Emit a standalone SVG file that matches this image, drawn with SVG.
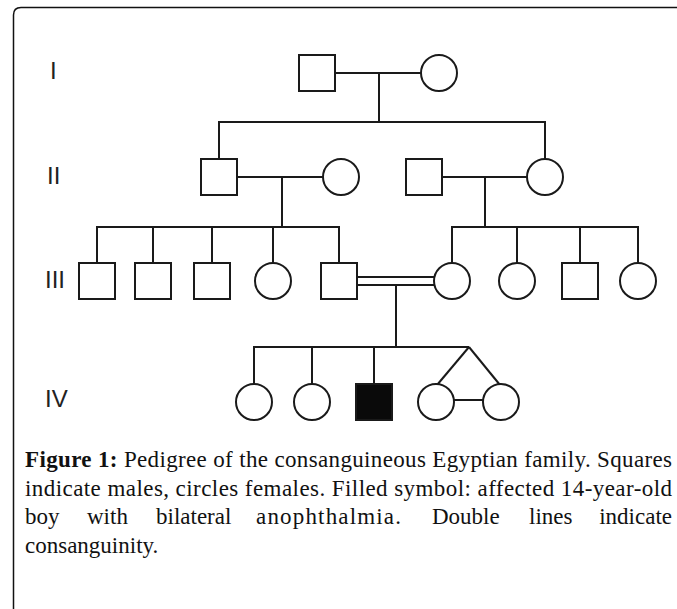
<svg xmlns="http://www.w3.org/2000/svg" width="677" height="609" viewBox="0 0 677 609">
<style>
.s{fill:#fff;stroke:#1a1a1a;stroke-width:2}
.f{fill:#0a0a0a;stroke:#1a1a1a;stroke-width:2}
.c line{stroke:#1a1a1a;stroke-width:2;fill:none}
.lab{font-family:"Liberation Sans",Arial,sans-serif;font-size:24px;fill:#222}
.cap{font-family:"Liberation Serif","Times New Roman",serif;font-size:23px;fill:#111}
.b{font-weight:bold}
</style>
<rect width="677" height="609" fill="#fff"/>
<path d="M13.5,615 V15 Q13.5,7.5 21,7.5 H690" fill="none" stroke="#111" stroke-width="1.5"/>
<g id="labels">
<text class="lab" x="50" y="79">I</text>
<text class="lab" x="47" y="184">II</text>
<text class="lab" x="45" y="288">III</text>
<text class="lab" x="45" y="407">IV</text>
</g>
<g class="c" id="connectors">
<line x1="335" y1="73" x2="421" y2="73"/>
<line x1="379" y1="73" x2="379" y2="122"/>
<line x1="219" y1="122" x2="545" y2="122"/>
<line x1="219" y1="121" x2="219" y2="159"/>
<line x1="545" y1="121" x2="545" y2="159"/>
<line x1="237" y1="177" x2="323" y2="177"/>
<line x1="282" y1="177" x2="282" y2="227"/>
<line x1="442" y1="177" x2="527" y2="177"/>
<line x1="485" y1="177" x2="485" y2="227"/>
<line x1="96" y1="227" x2="340" y2="227"/>
<line x1="97" y1="226" x2="97" y2="263"/>
<line x1="153" y1="226" x2="153" y2="263"/>
<line x1="212" y1="226" x2="212" y2="263"/>
<line x1="273" y1="226" x2="273" y2="263"/>
<line x1="339" y1="226" x2="339" y2="263"/>
<line x1="451" y1="227" x2="639" y2="227"/>
<line x1="452" y1="226" x2="452" y2="263"/>
<line x1="517" y1="226" x2="517" y2="263"/>
<line x1="580" y1="226" x2="580" y2="263"/>
<line x1="638" y1="226" x2="638" y2="263"/>
<line x1="357" y1="277" x2="435" y2="277"/>
<line x1="357" y1="285" x2="435" y2="285"/>
<line x1="396" y1="285" x2="396" y2="347"/>
<line x1="253" y1="347" x2="469" y2="347"/>
<line x1="254" y1="346" x2="254" y2="384"/>
<line x1="312" y1="346" x2="312" y2="384"/>
<line x1="374" y1="346" x2="374" y2="384"/>
<line x1="469" y1="347" x2="437" y2="385"/>
<line x1="469" y1="347" x2="500" y2="385"/>
<line x1="454" y1="400" x2="483" y2="400"/>
</g>
<g id="I-1"><rect class="s" x="299" y="55" width="36" height="36"/></g>
<g id="I-2"><circle class="s" cx="439" cy="73" r="18"/></g>
<g id="II-1"><rect class="s" x="201" y="159" width="36" height="36"/></g>
<g id="II-2"><circle class="s" cx="341" cy="177" r="18"/></g>
<g id="II-3"><rect class="s" x="406" y="159" width="36" height="36"/></g>
<g id="II-4"><circle class="s" cx="545" cy="177" r="18"/></g>
<g id="III-1"><rect class="s" x="79" y="263" width="36" height="36"/></g>
<g id="III-2"><rect class="s" x="135" y="263" width="36" height="36"/></g>
<g id="III-3"><rect class="s" x="194" y="263" width="36" height="36"/></g>
<g id="III-4"><circle class="s" cx="273" cy="281" r="18"/></g>
<g id="III-5"><rect class="s" x="321" y="263" width="36" height="36"/></g>
<g id="III-6"><circle class="s" cx="452" cy="281" r="18"/></g>
<g id="III-7"><circle class="s" cx="517" cy="281" r="18"/></g>
<g id="III-8"><rect class="s" x="562" y="263" width="36" height="36"/></g>
<g id="III-9"><circle class="s" cx="638" cy="281" r="18"/></g>
<g id="IV-1"><circle class="s" cx="254" cy="402" r="18"/></g>
<g id="IV-2"><circle class="s" cx="312" cy="402" r="18"/></g>
<g id="IV-3"><rect class="f" x="356" y="384" width="36" height="36"/></g>
<g id="IV-4"><circle class="s" cx="436" cy="402" r="18"/></g>
<g id="IV-5"><circle class="s" cx="501" cy="402" r="18"/></g>
<g id="caption">
<text class="cap" x="25" y="467" textLength="647" lengthAdjust="spacing"><tspan class="b">Figure 1:</tspan> Pedigree of the consanguineous Egyptian family. Squares</text>
<text class="cap" x="25" y="496" textLength="647" lengthAdjust="spacing">indicate males, circles females. Filled symbol: affected 14-year-old</text>
<text class="cap" x="25" y="524">boy</text>
<text class="cap" x="87" y="524">with</text>
<text class="cap" x="156" y="524">bilateral</text>
<text class="cap" x="256" y="524" textLength="145" lengthAdjust="spacing">anophthalmia.</text>
<text class="cap" x="432" y="524">Double</text>
<text class="cap" x="529" y="524">lines</text>
<text class="cap" x="672" y="524" text-anchor="end">indicate</text>
<text class="cap" x="25" y="553">consanguinity.</text>
</g>
</svg>
